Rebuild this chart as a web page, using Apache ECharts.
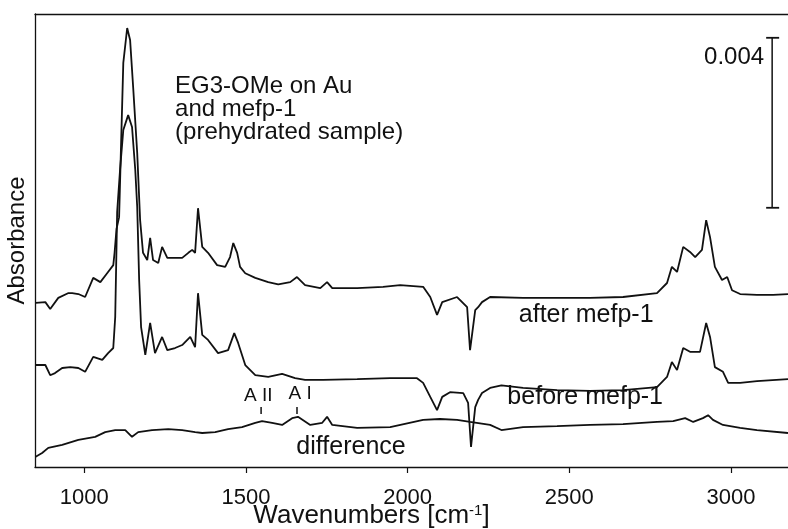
<!DOCTYPE html>
<html lang="en">
<head>
    <meta charset="UTF-8">
    <title>IRRAS EG3-OMe / mefp-1</title>
    <script src="https://cdn.jsdelivr.net/npm/echarts@6/dist/echarts.min.js"></script>
    <style>
        html, body { margin: 0; padding: 0; background: #fff; }
        #chart { width: 788px; height: 529px; }
    </style>
</head>
<body>
<div id="chart"></div>

<script>
    // spectra, absorbance in units of 0.001 (offset traces)
    var afterWn = [850, 880, 895, 920, 950, 963, 982, 1003, 1028, 1050, 1071, 1090, 1094, 1100, 1108, 1121, 1133, 1142, 1152, 1164,
        1173, 1182, 1195, 1204, 1213, 1229, 1241, 1257, 1281, 1303, 1322, 1334, 1343, 1352, 1365, 1383, 1411, 1436, 1451, 1461,
        1473, 1482, 1498, 1529, 1569, 1600, 1637, 1658, 1683, 1730, 1751, 1767, 1844, 1924, 1977, 2048, 2070, 2091, 2107, 2153,
        2184, 2193, 2209, 2218, 2230, 2255, 2357, 2462, 2564, 2666, 2771, 2802, 2817, 2833, 2852, 2873, 2889, 2910, 2923, 2935,
        2950, 2972, 2988, 3003, 3028, 3080, 3130, 3176];
    var afterAbs = [3.86, 3.88, 3.72, 3.98, 4.09, 4.09, 4.07, 4.0, 4.45, 4.35, 4.56, 4.75, 5.04, 5.6, 5.88, 9.51, 10.33, 10.05, 8.87, 7.39,
        5.81, 5.04, 4.87, 5.39, 4.87, 4.80, 5.18, 4.92, 4.92, 4.92, 5.04, 5.11, 5.04, 6.09, 5.18, 5.04, 4.75, 4.71, 4.94, 5.27,
        5.04, 4.71, 4.56, 4.45, 4.35, 4.30, 4.35, 4.47, 4.28, 4.21, 4.35, 4.21, 4.21, 4.24, 4.28, 4.24, 4.0, 3.58, 3.88, 4.0,
        3.76, 2.75, 3.69, 3.76, 3.88, 4.0, 3.98, 3.98, 3.98, 4.0, 4.09, 4.33, 4.71, 4.59, 5.18, 5.06, 4.94, 5.11, 5.81, 5.41,
        4.71, 4.40, 4.47, 4.16, 4.07, 4.05, 4.05, 4.07];

    var beforeWn = [850, 880, 895, 910, 932, 957, 982, 1003, 1028, 1056, 1074, 1090, 1096, 1102, 1111, 1121, 1136, 1148, 1158, 1164,
        1170, 1176, 1189, 1204, 1219, 1241, 1257, 1281, 1303, 1328, 1343, 1352, 1365, 1383, 1414, 1445, 1464, 1476, 1498, 1529,
        1569, 1612, 1652, 1683, 1739, 1844, 1946, 2029, 2048, 2070, 2091, 2107, 2131, 2172, 2187, 2196, 2209, 2218, 2230, 2255,
        2290, 2357, 2462, 2564, 2666, 2771, 2802, 2817, 2833, 2852, 2873, 2904, 2923, 2935, 2950, 2975, 2991, 3028, 3080, 3176];
    var beforeAbs = [2.40, 2.40, 2.16, 2.21, 2.33, 2.35, 2.33, 2.24, 2.59, 2.52, 2.68, 2.80, 3.53, 6.0, 7.0, 7.93, 8.28, 8.0, 6.99, 6.12,
        4.40, 3.29, 2.64, 3.39, 2.68, 3.06, 2.75, 2.80, 2.87, 3.06, 2.82, 4.09, 3.11, 2.99, 2.68, 2.75, 3.15, 2.92, 2.40, 2.16,
        2.12, 2.19, 2.09, 2.05, 2.05, 2.07, 2.09, 2.09, 1.98, 1.65, 1.34, 1.65, 1.76, 1.74, 1.51, 0.47, 1.41, 1.58, 1.74, 1.86,
        1.92, 1.86, 1.81, 1.79, 1.81, 1.88, 2.12, 2.47, 2.28, 2.80, 2.71, 2.71, 3.39, 3.06, 2.35, 2.24, 1.98, 1.98, 2.02, 2.07];

    var diffWn = [850, 870, 889, 932, 982, 1034, 1065, 1096, 1127, 1148, 1167, 1210, 1260, 1303, 1343, 1365, 1405, 1445, 1488, 1529,
        1550, 1581, 1612, 1643, 1661, 1699, 1736, 1751, 1767, 1844, 1946, 2048, 2100, 2153, 2193, 2255, 2290, 2357, 2462, 2564,
        2666, 2771, 2821, 2858, 2883, 2913, 2929, 2944, 2975, 3028, 3080, 3176];
    var diffAbs = [0.24, 0.33, 0.45, 0.52, 0.64, 0.71, 0.82, 0.87, 0.87, 0.71, 0.82, 0.87, 0.89, 0.87, 0.82, 0.80, 0.82, 0.89, 0.94, 1.04,
        1.08, 1.04, 0.99, 1.15, 1.18, 0.99, 1.04, 1.18, 0.99, 0.92, 0.94, 1.11, 1.13, 1.11, 1.06, 0.99, 0.87, 0.94, 0.96, 0.99,
        1.01, 1.06, 1.08, 1.15, 1.06, 1.15, 1.22, 1.11, 0.99, 0.92, 0.87, 0.80];

    var xTicks = [1000, 1500, 2000, 2500, 3000];

    // text notes: label, wavenumber, absorbance
    var noteText = ['EG3-OMe on Au\nand mefp-1\n(prehydrated sample)', 'after mefp-1', 'before mefp-1', 'difference', 'A II', 'A I'];
    var noteWn = [1281, 2552, 2549, 1825, 1538, 1668];
    var noteAbs = [8.42, 3.58, 1.65, 0.47, 1.67, 1.72];

    // amide band markers: wavenumber, from, to
    var bandWn = [1547, 1658];
    var bandLow = [1.25, 1.25];
    var bandHigh = [1.41, 1.41];

    // 0.004 scale bar
    var scaleWn = 3127;
    var scaleLow = 6.1;
    var scaleHigh = 10.1;
    var scaleText = '0.004';

    var FONT = '"Liberation Sans", Arial, Helvetica, sans-serif';
    var INK = '#111';

    function pairs(xs, ys) {
        var out = [];
        for (var i = 0; i < xs.length; i++) out.push([xs[i], ys[i]]);
        return out;
    }

    function traceSeries(name, xs, ys) {
        return {
            name: name,
            type: 'line',
            data: pairs(xs, ys),
            showSymbol: false,
            symbol: 'none',
            silent: true,
            lineStyle: { color: INK, width: 1.8 },
            z: 3
        };
    }

    var notes = [];
    for (var i = 0; i < noteText.length; i++) {
        var first = i === 0;
        var small = noteText[i].indexOf('A ') === 0;
        notes.push({
            value: [noteWn[i], noteAbs[i]],
            label: {
                formatter: noteText[i],
                color: INK,
                align: first ? 'left' : 'center',
                fontSize: small ? 19 : (first ? 24 : 25),
                lineHeight: first ? 23 : undefined
            }
        });
    }

    var bands = [];
    for (var j = 0; j < bandWn.length; j++) bands.push([bandWn[j], bandLow[j], bandHigh[j], 0]);
    bands.push([scaleWn, scaleLow, scaleHigh, 1]);

    var myChart = echarts.init(document.getElementById('chart'), null, { renderer: 'canvas' });
    var option = {
        animation: false,
        backgroundColor: '#fff',
        textStyle: { fontFamily: FONT, color: INK },
        grid: { left: 35, right: 0, top: 14, bottom: 62, containLabel: false, outerBoundsMode: 'none' },
        xAxis: [{
            type: 'value',
            position: 'bottom',
            min: 848,
            max: 3176,
            axisLine: { show: true, lineStyle: { color: INK, width: 1.3 } },
            axisTick: { show: true, inside: false, length: 6, customValues: xTicks, lineStyle: { color: INK, width: 1.2 } },
            axisLabel: {
                customValues: xTicks, fontSize: 22, margin: 20, color: INK, fontFamily: FONT,
                formatter: function (v) { return String(v); }
            },
            splitLine: { show: false },
            name: 'Wavenumbers [cm{sup|-1}]',
            nameLocation: 'middle',
            nameGap: 36,
            nameMoveOverlap: false,
            nameTextStyle: {
                fontSize: 26, color: INK, fontFamily: FONT, lineHeight: 26,
                padding: [0, 80, 0, 0],
                rich: { sup: { fontSize: 15, verticalAlign: 'top', lineHeight: 26, fontFamily: FONT, color: INK } }
            }
        }, {
            type: 'value',
            position: 'top',
            min: 848,
            max: 3176,
            axisLine: { show: true, lineStyle: { color: INK, width: 1.3 } },
            axisTick: { show: false },
            axisLabel: { show: false },
            splitLine: { show: false }
        }],
        yAxis: {
            type: 'value',
            min: 0,
            max: 10.66,
            axisLine: { show: true, lineStyle: { color: INK, width: 1.3 } },
            axisTick: { show: false },
            axisLabel: { show: false },
            splitLine: { show: false },
            name: 'Absorbance',
            nameLocation: 'middle',
            nameGap: 6,
            nameMoveOverlap: false,
            nameTextStyle: { fontSize: 24, color: INK, fontFamily: FONT }
        },
        series: [
            traceSeries('after mefp-1', afterWn, afterAbs),
            traceSeries('before mefp-1', beforeWn, beforeAbs),
            traceSeries('difference', diffWn, diffAbs),
            {
                name: 'notes',
                type: 'scatter',
                symbolSize: 0,
                silent: true,
                itemStyle: { opacity: 1, color: INK },
                data: notes,
                label: {
                    show: true,
                    position: 'inside',
                    verticalAlign: 'middle',
                    color: INK,
                    opacity: 1,
                    fontFamily: FONT
                },
                z: 4
            },
            {
                name: 'marks',
                type: 'custom',
                silent: true,
                data: bands,
                renderItem: function (params, api) {
                    var top = api.coord([api.value(0), api.value(2)]);
                    var bot = api.coord([api.value(0), api.value(1)]);
                    var kids = [{
                        type: 'line',
                        shape: { x1: top[0], y1: top[1], x2: bot[0], y2: bot[1] },
                        style: { stroke: INK, lineWidth: 1.5 }
                    }];
                    if (api.value(3) === 1) {
                        kids.push({
                            type: 'line',
                            shape: { x1: top[0] - 6, y1: top[1], x2: top[0] + 7, y2: top[1] },
                            style: { stroke: INK, lineWidth: 1.8 }
                        });
                        kids.push({
                            type: 'line',
                            shape: { x1: bot[0] - 6, y1: bot[1], x2: bot[0] + 7, y2: bot[1] },
                            style: { stroke: INK, lineWidth: 1.8 }
                        });
                        kids.push({
                            type: 'text',
                            x: top[0] - 8,
                            y: top[1] + 8,
                            style: {
                                text: scaleText, fontSize: 24, fontFamily: FONT, fill: INK,
                                align: 'right', verticalAlign: 'top'
                            }
                        });
                    }
                    return { type: 'group', children: kids };
                },
                z: 5
            }
        ]
    };
    myChart.setOption(option);
</script>

</body>
</html>
